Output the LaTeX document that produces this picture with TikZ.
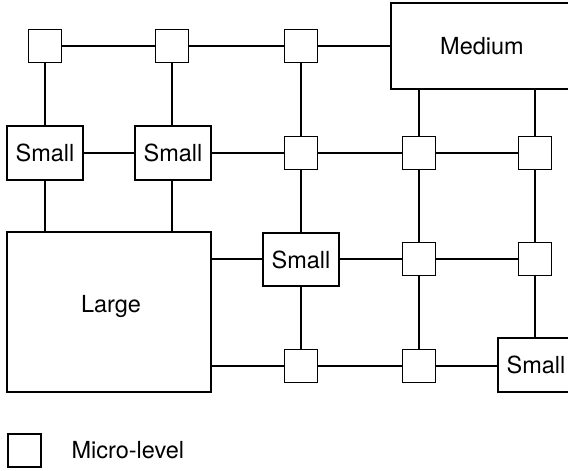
\documentclass[tikz,border=0pt]{standalone}
\usepackage{fontspec}
\setmainfont{TeX Gyre Heros}
\begin{document}
\begin{tikzpicture}[x=1pt,y=-1pt,
  lbl/.style={font=\fontsize{23.5}{25}\selectfont},
  box/.style={draw, line width=1.8pt, inner sep=0pt, lbl},
  micro/.style={box, minimum width=33pt, minimum height=33pt},
  smallbox/.style={box, minimum width=76pt, minimum height=54pt},
  link/.style={draw, line width=1.2pt}]
\useasboundingbox (0,0) rectangle (568,471);
\clip (0,0) rectangle (568,471);

% micro-level nodes
\node[micro] (m11) at (45,46) {};
\node[micro] (m12) at (172,46) {};
\node[micro] (m13) at (301,46) {};
\node[micro] (m23) at (301,153) {};
\node[micro] (m24) at (419,153) {};
\node[micro] (m25) at (535,153) {};
\node[micro] (m34) at (419,259) {};
\node[micro] (m35) at (535,259) {};
\node[micro] (m43) at (301,366) {};
\node[micro] (m44) at (419,366) {};

% larger units
\node[box, minimum width=182pt, minimum height=86pt] (med) at (482,46) {Medium};
\node[smallbox] (s21) at (45,153) {Small};
\node[smallbox] (s22) at (173,153) {Small};
\node[smallbox, minimum height=53pt] (s33) at (301,259.5) {Small};
\node[smallbox] (s45) at (536,365) {Small};
\node[box, minimum width=204pt, minimum height=160pt] (large) at (109,312) {};
\node[lbl] (largelbl) at (111,306) {Large};

% horizontal links
\path[link] (m11) -- (m12);
\path[link] (m12) -- (m13);
\path[link] (m13) -- (m13 -| med.west);
\path[link] (s21) -- (s22);
\path[link] (s22) -- (m23);
\path[link] (m23) -- (m24);
\path[link] (m24) -- (m25);
\path[link] (large.east |- m34) -- (s33.west |- m34);
\path[link] (s33.east |- m34) -- (m34);
\path[link] (m34) -- (m35);
\path[link] (large.east |- m43) -- (m43);
\path[link] (m43) -- (m44);
\path[link] (m44) -- (m44 -| s45.west);

% vertical links
\path[link] (m11) -- (m11 |- s21.north);
\path[link] (m12) -- (m12 |- s22.north);
\path[link] (m13) -- (m23);
\path[link] (m24 |- med.south) -- (m24);
\path[link] (m25 |- med.south) -- (m25);
\path[link] (s21) -- (s21 |- large.north);
\path[link] (m12 |- s22.south) -- (m12 |- large.north);
\path[link] (m23) -- (s33);
\path[link] (m24) -- (m34);
\path[link] (m25) -- (m35);
\path[link] (s33) -- (m43);
\path[link] (m34) -- (m44);
\path[link] (m35) -- (m35 |- s45.north);

% legend
\node[micro] (key) at (24.5,450.5) {};
\node[anchor=west, lbl] (keytext) at (68,450) {Micro-level};
\end{tikzpicture}
\end{document}
